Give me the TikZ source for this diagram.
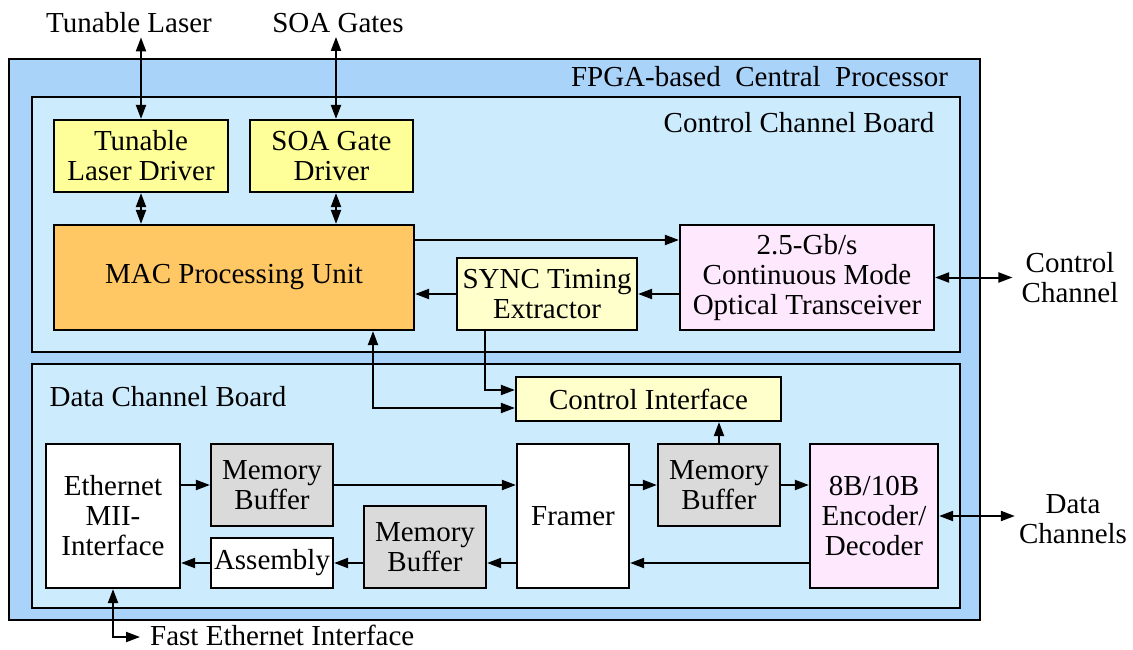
\documentclass[tikz,border=0pt]{standalone}
\usepackage{fontspec}
\setmainfont{Liberation Serif}
\usetikzlibrary{arrows.meta,calc}

\definecolor{fpgafill}{RGB}{170,211,250}
\definecolor{boardfill}{RGB}{204,235,253}
\definecolor{drvfill}{RGB}{255,255,153}
\definecolor{macfill}{RGB}{255,200,100}
\definecolor{paleyellow}{RGB}{255,255,204}
\definecolor{pinkfill}{RGB}{253,232,253}
\definecolor{bufgray}{RGB}{218,218,218}

\newcommand{\diagfont}{\fontsize{29}{30}\selectfont}

\begin{document}
\begin{tikzpicture}[x=1pt,y=-1pt,
  frame/.style={draw, line width=2.5pt, inner sep=0pt},
  block/.style={draw, line width=2.2pt, inner sep=0pt, align=center, font=\diagfont},
  lbl/.style={inner sep=0pt, align=center, font=\diagfont},
  conn/.style={line width=2pt, -{Triangle[length=14pt,width=10pt]}},
  dconn/.style={line width=2pt, {Triangle[length=14pt,width=10pt]}-{Triangle[length=14pt,width=10pt]}}]
\useasboundingbox (0,0) rectangle (1133,650);

% containers
\node[frame, fill=fpgafill, minimum width=971pt, minimum height=561pt] (fpga) at (494.5,339.5) {};
\node[frame, fill=boardfill, minimum width=928pt, minimum height=255pt] (ctrlboard) at (496,224.5) {};
\node[frame, fill=boardfill, minimum width=928pt, minimum height=244pt] (databoard) at (496,486) {};

\node[lbl] (fpgalbl) at (759.5,77) {FPGA-based\ \ Central\ \ Processor};
\node[lbl] (ctrllbl) at (799,123) {Control Channel Board};
\node[lbl] (datalbl) at (168,397) {Data Channel Board};

% control channel board
\node[block, fill=drvfill, minimum width=174pt, minimum height=72pt] (tld) at (141,156) {Tunable\\Laser Driver};
\node[block, fill=drvfill, minimum width=163pt, minimum height=72pt] (sgd) at (331.5,156) {SOA Gate\\Driver};
\node[block, fill=macfill, minimum width=360pt, minimum height=105pt] (mac) at (234,277.5) {MAC Processing Unit};
\node[block, fill=paleyellow, minimum width=180pt, minimum height=72pt] (sync) at (547,294) {SYNC Timing\\Extractor};
\node[block, fill=pinkfill, minimum width=254pt, minimum height=105pt] (trx) at (807,277.5) {2.5-Gb/s\\Continuous Mode\\Optical Transceiver};

% data channel board
\node[block, fill=paleyellow, minimum width=265pt, minimum height=44pt] (ci) at (648.5,399) {Control Interface};
\node[block, fill=white, minimum width=134pt, minimum height=144pt] (eth) at (113,516) {Ethernet\\MII-\\Interface};
\node[block, fill=bufgray, minimum width=122pt, minimum height=82pt] (mb1) at (272,485) {Memory\\Buffer};
\node[block, fill=white, minimum width=122pt, minimum height=50pt] (asm) at (272,563) {Assembly};
\node[block, fill=bufgray, minimum width=122pt, minimum height=82pt] (mb2) at (425,547) {Memory\\Buffer};
\node[block, fill=white, minimum width=112pt, minimum height=144pt] (fr) at (573,516) {Framer};
\node[block, fill=bufgray, minimum width=122pt, minimum height=82pt] (mb3) at (719,485) {Memory\\Buffer};
\node[block, fill=pinkfill, minimum width=128pt, minimum height=144pt] (enc) at (874,516) {8B/10B\\Encoder/\\Decoder};

% external labels
\node[lbl] (tl) at (129,23) {Tunable Laser};
\node[lbl] (soa) at (338,23) {SOA Gates};
\node[lbl] (cc) at (1070,278) {Control\\Channel};
\node[lbl] (dc) at (1073,519) {Data\\Channels};
\node[lbl, anchor=west] (fe) at (150,635.5) {Fast Ethernet Interface};

% connectors: control channel board
\draw[dconn] ($(tl.south -| tld.north)+(0,4)$) -- (tld.north);
\draw[dconn] ($(soa.south -| sgd.north)+(4.5,4)$) -- ([xshift=4.5pt]sgd.north);
\draw[dconn] (tld.south) -- (tld.south |- mac.north);
\draw[dconn] ([xshift=4.5pt]sgd.south) -- ([xshift=4.5pt]sgd.south |- mac.north);
\draw[conn] ([yshift=37.5pt]mac.east) -- ([yshift=37.5pt]mac.east -| trx.west);
\draw[conn] (sync.east -| trx.west) -- (sync.east);
\draw[conn] (sync.west) -- (sync.west -| mac.east);
\draw[dconn] (trx.east) -- ($(trx.east -| cc.west)+(-9,0)$);

% connectors: between the boards
\draw[conn] ([xshift=-62pt]sync.south) |- ([yshift=9pt]ci.west);
\draw[dconn] ([xshift=139pt]mac.south) |- ([yshift=-9pt]ci.west);

% connectors: data channel board
\draw[conn] (mb3.north) -- (mb3.north |- ci.south);
\draw[conn] (eth.east |- mb1.west) -- (mb1.west);
\draw[conn] (mb1.east) -- (mb1.east -| fr.west);
\draw[conn] (fr.east |- mb3.west) -- (mb3.west);
\draw[conn] (mb3.east) -- (mb3.east -| enc.west);
\draw[conn] (enc.west |- asm.east) -- (fr.east |- asm.east);
\draw[conn] (fr.west |- asm.east) -- (mb2.east |- asm.east);
\draw[conn] (mb2.west |- asm.east) -- (asm.east);
\draw[conn] (asm.west) -- (asm.west -| eth.east);
\draw[dconn] (enc.east) -- ($(enc.east -| dc.west)+(-4,0)$);
\draw[dconn] (eth.south) |- ($(fe.west)+(-10,1.5)$);
\end{tikzpicture}
\end{document}
